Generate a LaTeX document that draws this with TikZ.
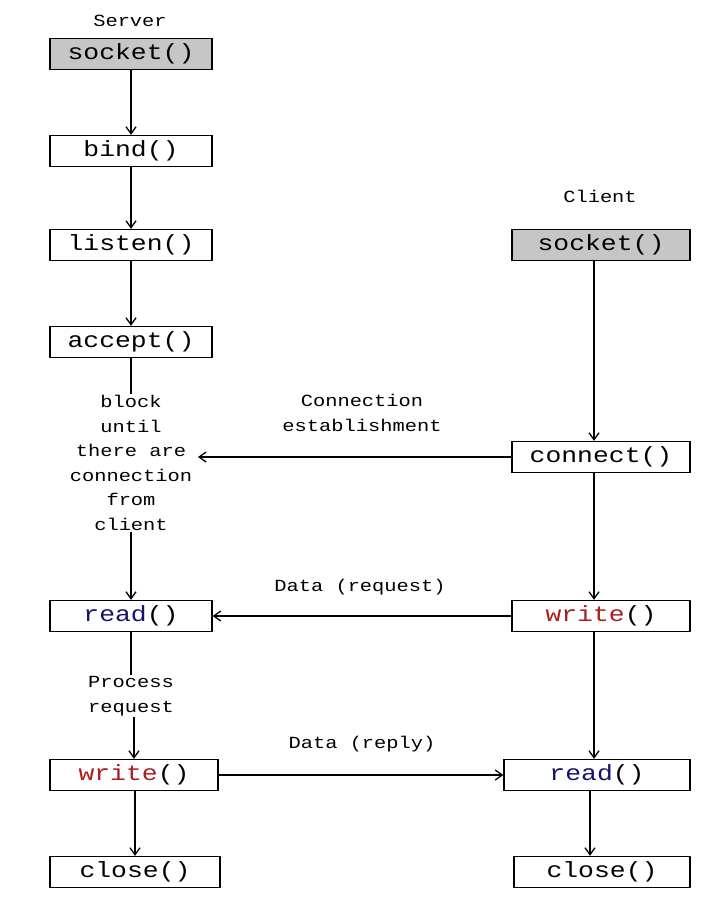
\documentclass[tikz,border=0pt]{standalone}
\usepackage{fontspec}
\setmonofont[FakeStretch=1.2]{Liberation Mono}
\usetikzlibrary{arrows.meta}
\begin{document}
\begin{tikzpicture}[x=1pt,y=-1pt,
  box/.style={draw,line width=1.3pt,minimum height=31pt,inner sep=0pt,font=\ttfamily\fontsize{22}{24}\selectfont},
  gbox/.style={box,fill=gray!45},
  lab/.style={font=\ttfamily\fontsize{17}{24.6}\selectfont,align=center,inner sep=1pt},
  arr/.style={-{Straight Barb[length=7pt,width=10pt]},line width=1.3pt},
  ln/.style={line width=1.3pt}]
\useasboundingbox (0,0) rectangle (720,901);
\definecolor{rd}{RGB}{170,30,30}
\definecolor{bl}{RGB}{20,20,110}
\node[lab] (st) at (130,21) {Server};
\node[gbox,minimum width=162pt] (ssock) at (131,54) {socket()};
\node[box,minimum width=162pt] (bind) at (131,151) {bind()};
\node[box,minimum width=162pt] (listen) at (131,245) {listen()};
\node[box,minimum width=162pt] (accept) at (131,342) {accept()};
\node[lab] (block) at (131,463) {block\\until\\there are\\connection\\from\\client};
\node[box,minimum width=162pt] (sread) at (131,616) {\textcolor{bl}{read}()};
\node[lab] (proc) at (131,696) {Process\\request};
\node[box,minimum width=168pt] (swrite) at (134,775) {\textcolor{rd}{write}()};
\node[box,minimum width=170pt] (sclose) at (135,872) {close()};
\node[lab] (ct) at (600,196) {Client};
\node[gbox,minimum width=178pt] (csock) at (601,245) {socket()};
\node[box,minimum width=178pt] (conn) at (601,457) {connect()};
\node[box,minimum width=178pt] (cwrite) at (601,616) {\textcolor{rd}{write}()};
\node[box,minimum width=186pt] (cread) at (597,775) {\textcolor{bl}{read}()};
\node[box,minimum width=176pt] (cclose) at (602,872) {close()};
\node[lab] (l1) at (362,413) {Connection\\establishment};
\node[lab] (l2) at (360,587) {Data (request)};
\node[lab] (l3) at (362,744) {Data (reply)};
\draw[arr] (ssock) -- (bind);
\draw[arr] (bind) -- (listen);
\draw[arr] (listen) -- (accept);
\draw[ln] (accept) -- (block);
\draw[arr] (block) -- (sread);
\draw[ln] (sread) -- (proc);
\draw[arr] (proc.south -| swrite.north) -- (swrite);
\draw[arr] (swrite.south -| sclose.north) -- (sclose);
\draw[arr] (csock.south -| 594,0) -- (conn.north -| 594,0);
\draw[arr] (conn.south -| 594,0) -- (cwrite.north -| 594,0);
\draw[arr] (cwrite.south -| 594,0) -- (cread.north -| 594,0);
\draw[arr] (cread.south -| 590,0) -- (cclose.north -| 590,0);
\draw[arr] (conn.west) -- (198,0 |- conn.west);
\draw[arr] (cwrite) -- (sread);
\draw[arr] (swrite) -- (cread);
\end{tikzpicture}
\end{document}
